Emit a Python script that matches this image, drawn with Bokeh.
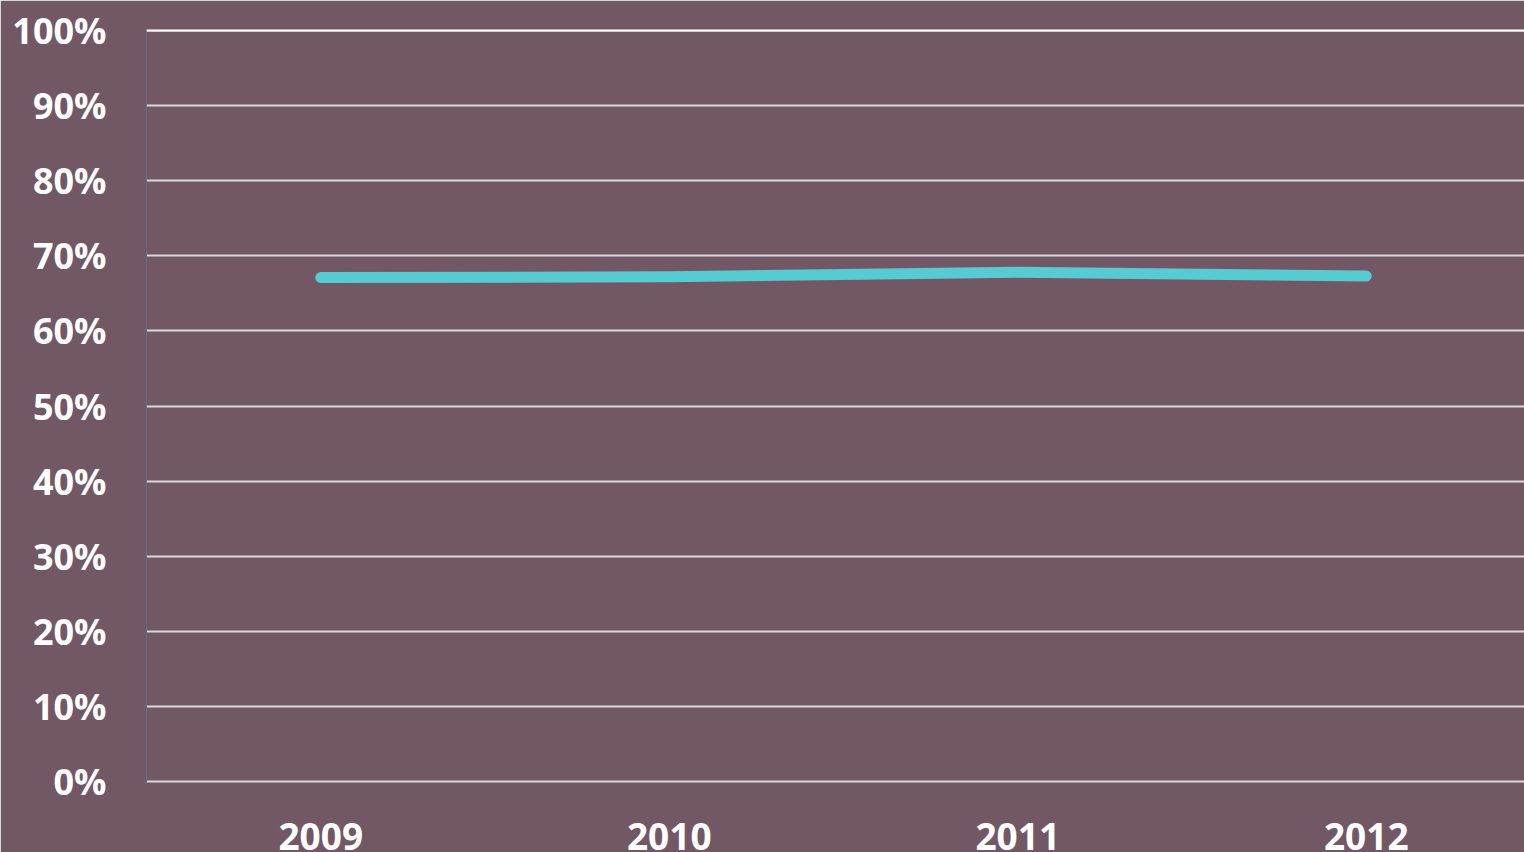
from bokeh.plotting import figure
from bokeh.models import Range1d, FixedTicker, NumeralTickFormatter, Span
from bokeh.embed import file_html
from bokeh.resources import INLINE

years = [2009, 2010, 2011, 2012]
year_labels = ["2009", "2010", "2011", "2012"]
share = [0.671, 0.672, 0.678, 0.673]
y_ticks = [0.0, 0.1, 0.2, 0.3, 0.4, 0.5, 0.6, 0.7, 0.8, 0.9, 1.0]

BG = "#725765"
FONT = "Open Sans"

p = figure(width=1524, height=852, output_backend="svg", toolbar_location=None,
           x_range=Range1d(2008.5, 2012.454), y_range=Range1d(-0.0013, 1.0013),
           min_border_left=146, min_border_top=29, min_border_right=0, min_border_bottom=0)
p.background_fill_color = BG
p.border_fill_color = BG
p.outline_line_color = None

p.add_layout(Span(location=1.0, dimension="width", line_color="white", line_width=2))

p.line(years, share, line_color="#56CBD1", line_width=11, line_cap="round", line_join="round")

p.yaxis.ticker = FixedTicker(ticks=y_ticks)
p.yaxis.formatter = NumeralTickFormatter(format="0%")
p.yaxis.axis_line_color = "#5b7090"
p.yaxis.axis_line_width = 1
p.yaxis.major_tick_line_color = None
p.yaxis.minor_tick_line_color = None
p.yaxis.major_tick_out = 0
p.yaxis.major_tick_in = 0
p.yaxis.major_label_standoff = 40
p.yaxis.major_label_text_font = FONT
p.yaxis.major_label_text_font_style = "bold"
p.yaxis.major_label_text_font_size = "36px"
p.yaxis.major_label_text_color = "white"

p.xaxis.ticker = FixedTicker(ticks=years)
p.xaxis.major_label_overrides = {y: s for y, s in zip(years, year_labels)}
p.xaxis.axis_line_color = None
p.xaxis.major_tick_line_color = None
p.xaxis.minor_tick_line_color = None
p.xaxis.major_tick_out = 0
p.xaxis.major_tick_in = 0
p.xaxis.major_label_standoff = 40
p.xaxis.major_label_text_font = FONT
p.xaxis.major_label_text_font_style = "bold"
p.xaxis.major_label_text_font_size = "37px"
p.xaxis.major_label_text_color = "white"

p.xgrid.grid_line_color = None
p.ygrid.grid_line_color = "#d9d9d9"
p.ygrid.grid_line_width = 2

open("out.html", "w").write(file_html(p, INLINE))
